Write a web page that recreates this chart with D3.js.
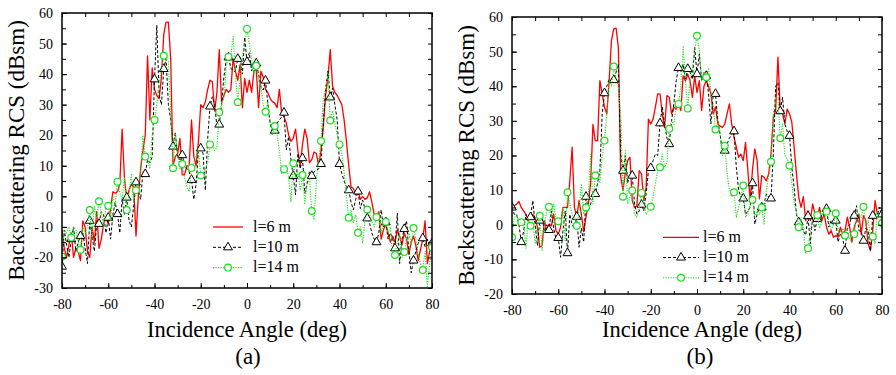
<!DOCTYPE html>
<html><head><meta charset="utf-8">
<script src="https://cdn.jsdelivr.net/npm/d3@7"></script>
<style>
body{margin:0;background:#fff}
svg{display:block}
svg text{font-family:"Liberation Serif","Times New Roman",Times,"Nimbus Roman","DejaVu Serif",serif !important;fill:#000}
</style>
</head><body>
<svg id="c" width="896" height="375"></svg>
<script>
// ---------------- data ----------------
const angles = d3.range(-80, 81, 1);            // incidence angle, deg (1-deg steps)
const seriesNames = ["l=6 m", "l=10 m", "l=14 m"];
const xTickValues = [-80, -60, -40, -20, 0, 20, 40, 60, 80];
const xTickLabels = ["-80", "-60", "-40", "-20", "0", "20", "40", "60", "80"];
const yTickValuesA = [-30, -20, -10, 0, 10, 20, 30, 40, 50, 60];
const yTickLabelsA = ["-30", "-20", "-10", "0", "10", "20", "30", "40", "50", "60"];
const yTickValuesB = [-20, -10, 0, 10, 20, 30, 40, 50, 60];
const yTickLabelsB = ["-20", "-10", "0", "10", "20", "30", "40", "50", "60"];
const xTitle = "Incidence Angle (deg)";
const yTitle = "Backscattering RCS (dBsm)";
const panelLabels = ["(a)", "(b)"];

// panel (a)
const aRed = [
 -11,-17,-20,-16,-12,-20,-17,-18,-21,-8,
 -10,-18,-20,-10,-15,-5,-17,-14,-9,-7,
 -9,-4,1.5,1,1.5,4,22,6,-1,2,
 4,3,-13,0,9,15,20,46,25,42,
 35,33,32,39,53,57,57,45,10,13,
 14,19,7,7,10,10,25,13,10,18,
 30,29,31,35,38,37.5,28,34,48,31,
 33,35,34,35,45,41,38,43,29,38.6,
 34,38,34,41,41.5,29,41,39,35,34,
 32,31,30.5,29,35,27,26,24,20,18,
 19,22,15,10,17,22,19,11,12,14.5,
 14,10,15,23,33,39,48,36,34,33,
 31.5,30,25,18,10,3,2.6,0.5,2,-1,
 0,-1,-0.5,1.5,-2,-6,-7,-5,-14,-11,
 -9,-12,-15,-13,-15,-11,-13,-16,-12,-14,
 -19,-15,-13,-16,-21,-17.5,-14,-8,-22,-18,-15];
const aBlack = [
 -23,-11,-16,-20,-14,-10,-18,-15,-13,-12,
 -17,-22,-8,-13,-18,-9,-9,-5,-6,-12,
 -7,-14,-6,-2,-5.8,-12,-1,-6,-0.4,-8,
 -10,-3,4.6,2,-1,8,7.3,12,11,13,
 38.3,56,33,30,41.7,45,30,25,16.3,21,
 13,12,13.5,10,9,8,5.4,-1,4,15,
 15.7,14,2,19,29.4,32.6,30,22.8,23.5,30,
 39,44.6,45.5,42,41,40.8,45,46,40,52,
 44,47,41,44,43.5,40,36,34.8,37.9,30.4,
 24,20.6,21.5,24,25,26,27.4,15.2,19.5,12,
 6.7,0.5,14,9,12.5,1,4.3,8,6.7,8,
 8.6,9,10.6,24,35,41,32.4,35.4,30,25,
 10.6,7.5,5,3.2,2,-2,-4.4,-1,1.6,-4,
 -1.2,-4,-7.2,-8.8,-12,-14,-15,-12,-4.4,-10,
 -8.5,-14,-12,-14,-17,-5.5,-22,-14,-10.7,-8,
 -18,-25,-21,-18,-15.4,-14,-13.7,-16.5,-14,-17,-15.4];
const aGreen = [
 -19.7,-11,-12,-10,-13.5,-10,-11,-15,-17.5,-10,
 -12,-10,-4.5,-14,-3,-8,-1.6,-5,-10,-4,
 -3.1,-8,0,-3,4.8,1,-1,6,-4.5,1,
 7.5,-2,2,4,8,20,13,12,9,20,
 25,30,38,41,46,45,44,28,9.2,20.6,
 14,9,10.6,6,3,1.5,9.3,11,13,15,
 6.8,6.5,9,11,17,17.4,15,16,27.5,30,
 32,42.4,45.7,46,52.3,40,30.8,38,45.7,50,
 54.8,50,45,40,42.7,38,36,30,27.7,31,
 24,20,23,20,15,7.5,8.9,10,6,-1.7,
 10.8,6,8,2,7,-2.3,4,6,-4.8,-7.7,
 5,12,18.1,32.6,35,40,24.8,28,24,20,
 17,14,8,0,-7,-4.4,-8.8,-6,-11.9,-10,
 -15.4,-8,-4.3,-6,-8,-10,-6.8,-7,-12,-9,
 -8.3,-12,-10,-19.7,-19.2,-15,-12,-20,-18.2,-14,
 -12,-16,-10.4,-14,-19,-22,-24.1,-18,-29.5,-22,-16.7];

// panel (b)
const bRed = [
 5,5.5,6,6.7,5,4,3,1.2,2.2,3,
 2,-0.7,-6.5,-6,1.2,-1.7,0.2,-0.3,3.1,-1.7,
 -2.7,-0.7,5,5,5,12.7,22.4,5,2.2,7,
 3,-2,2.2,6,12,29,24.3,24.3,41.6,37.8,
 34,32,41.6,53.2,56.6,56.8,51.2,14,10,15,
 18.5,19.5,7,5,5.5,15.6,14.7,7,10.8,30.5,
 29.1,30.5,34,37.8,37.8,32,28.1,37.3,36.8,32,
 34,33.4,34.9,33,43,41.6,43.5,41.6,36.8,43,
 38.2,41.6,33,40,41.6,40,38,32,34,29.1,
 28.5,28.1,29.1,32,34.9,29.1,25.3,22.4,19.5,20.4,
 18.5,23.8,15.6,7,16,21.9,18.5,7.5,14.2,13.7,
 12.7,14.7,20.4,31,33,48.4,33,32,29.1,33.4,
 32,29.6,22.4,14.7,7.9,5,8.1,1.2,4.1,1.2,
 6,3.1,2.2,5,1.2,3.1,-0.7,-2.7,-1.7,-3.6,
 -3.1,-3.6,-0.7,-2.7,-1.7,2.2,-0.7,-5,-0.7,1.2,
 3.1,-2.7,2.6,1.2,-5.5,-7.5,-1.7,7,3.1,3.1,2.2];
const bBlack = [
 5,3,3,0,-5,-2,3,1,2.2,7,
 0,-6,1.2,2.2,-2,0,-1.5,4,-1,-4,
 -3.8,-9.4,-2,4,-8.2,3,0,-1,2.3,-6.5,
 -1,-5,8.1,4,6,8,8.9,12,15.6,32,
 38,40,42,42,41.8,44,46.4,20.4,15.6,20,
 12,15,14.2,6,3.1,4,5.8,4,9,15.6,
 16.4,18.5,20.4,20,29.3,34,29,25,23.3,30,
 35,41.6,45.3,44,46.4,41.6,45,44,42,51.2,
 43.5,49.3,41.6,44,43,37.8,29.1,37.8,37.8,30,
 26.2,20.4,21.4,23.3,25,26,27,16.6,10,8,
 7.6,3,4,5,12,0.2,3,5,5,6,
 8.9,8,7.6,20.4,40,41,32.8,36.8,29.1,27,
 25.7,16.6,10.8,3,0.7,-0.7,-1.7,-3,2.5,-5.5,
 2.2,-1.7,1.7,1,3.1,3,4.6,-0.7,1.2,0,
 1.2,-5,-2.7,-4,-7.5,-0.7,0,3.1,2.6,5.5,
 -1.7,-2,-4.6,-1,-1.7,-7.5,2.6,3.1,3,5,3];
const bGreen = [
 -3.6,2,3,1,0.7,1,-6.8,2,-0.3,1,
 -5.5,0,2.6,-7.4,0,4,5.2,2,6,2,
 1,0,5,-4.6,9.4,6,3,2,-0.3,4,
 11.8,3,5,8,20.4,6,14.2,15.6,12,20,
 24.3,32,41.6,40,45.7,42.6,40,32,8.1,21.4,
 6,8,9.9,3,2.2,5,9.2,7,3,4,
 5.2,8,12,15.6,16.6,20.4,16.6,18,27.7,30,
 29,34.9,34.9,40,51.7,41.6,33.6,41.6,45,50.6,
 54.6,50.6,41.6,44,42.6,45.3,38,35,27.5,30,
 26.2,20,22.8,15,10,8,9.4,2.2,5,8,
 11.3,2.2,3.1,6,7.2,2.2,4,3,5,0.2,
 10,14,18.2,32,36.8,37,25,29.1,20,19,
 17.1,12,6,4,-0.7,2,-1,-8.4,-6.8,-2,
 1.2,2,2.8,-1,1,2,3.8,1.2,-1.7,0,
 3.3,-1.7,-2,-1,-3.1,-2,-4,-5,-2.7,3.1,
 3,2,5.2,-1,1.2,-3,-3.4,-5.5,4,2,0.5];

// ---------------- drawing ----------------
const svg = d3.select("#c");
const FONT = '"Liberation Serif","Times New Roman",Times,"Nimbus Roman","DejaVu Serif",serif';
const RED = "#ff0000", BLACK = "#000000", GREEN = "#19e019";
const styles = [
  {color: RED, width: 1.3, dash: null, marker: null},
  {color: BLACK, width: 1, dash: "3,2", marker: "tri"},
  {color: GREEN, width: 1.1, dash: "1.2,1.3", marker: "circ"}
];

function drawMarker(g, type, x, y) {
  if (type === "tri") {
    g.append("path")
      .attr("d", d3.symbol(d3.symbolTriangle, 34)())
      .attr("transform", `translate(${x},${y})`)
      .attr("fill", "#fff").attr("stroke", BLACK).attr("stroke-width", 1);
  } else if (type === "circ") {
    g.append("circle").attr("cx", x).attr("cy", y).attr("r", 3.4)
      .attr("fill", "#fff").attr("stroke", GREEN).attr("stroke-width", 1.2);
  }
}

function panel(cfg) {
  const {left, top, width, height, yDomain, yTicks, yLabels, series, id, label,
         legend, yTitleX, xTitleCx, labelCx} = cfg;
  const g = svg.append("g").attr("transform", `translate(${left},${top})`);
  const x = d3.scaleLinear().domain([-80, 80]).range([0, width]);
  const y = d3.scaleLinear().domain(yDomain).range([height, 0]);

  g.append("clipPath").attr("id", "clip" + id)
    .append("rect").attr("width", width).attr("height", height);

  const plot = g.append("g").attr("clip-path", `url(#clip${id})`);
  const line = d3.line().x((d, i) => x(angles[i])).y(d => y(d));

  series.forEach((vals, s) => {
    const st = styles[s];
    plot.append("path").datum(vals)
      .attr("d", line)
      .attr("fill", "none")
      .attr("stroke", st.color)
      .attr("stroke-width", st.width)
      .attr("stroke-dasharray", st.dash)
      .attr("stroke-linejoin", "round");
    if (st.marker) {
      vals.forEach((v, i) => {
        if (i % 4 === 0) drawMarker(plot, st.marker, x(angles[i]), y(v));
      });
    }
  });

  // ticks
  const xMinor = d3.range(-80, 81, 10);
  const yMinor = d3.range(yDomain[0], yDomain[1] + 0.1, 5);
  const styleAxis = sel => {
    sel.attr("font-family", FONT);
    sel.select(".domain").remove();
    sel.selectAll("line").attr("stroke", "#000").attr("stroke-width", 1);
    sel.selectAll("text").attr("font-size", 14).attr("font-family", FONT);
  };
  g.append("g").attr("transform", `translate(0,${height})`)
    .call(d3.axisBottom(x).tickValues(xMinor).tickSize(-3).tickFormat("")).call(styleAxis);
  g.append("g").attr("transform", `translate(0,${height})`)
    .call(d3.axisBottom(x).tickValues(xTickValues).tickSize(-5).tickPadding(11.5)
      .tickFormat((d, i) => xTickLabels[i])).call(styleAxis);
  g.append("g")
    .call(d3.axisTop(x).tickValues(xMinor).tickSize(-4).tickFormat("")).call(styleAxis);
  g.append("g")
    .call(d3.axisLeft(y).tickValues(yMinor).tickSize(-4).tickFormat("")).call(styleAxis);
  g.append("g")
    .call(d3.axisLeft(y).tickValues(yTicks).tickSize(-5).tickPadding(9)
      .tickFormat((d, i) => yLabels[i])).call(styleAxis);
  g.append("g").attr("transform", `translate(${width},0)`)
    .call(d3.axisRight(y).tickValues(yMinor).tickSize(-4).tickFormat("")).call(styleAxis);

  // frame
  g.append("rect").attr("width", width).attr("height", height)
    .attr("fill", "none").attr("stroke", "#000").attr("stroke-width", 1.5);

  // legend
  seriesNames.forEach((name, s) => {
    const st = styles[s];
    const ly = legend.y + s * legend.dy;
    g.append("line").attr("x1", legend.x1).attr("x2", legend.x2)
      .attr("y1", ly).attr("y2", ly)
      .attr("stroke", st.color).attr("stroke-width", st.width)
      .attr("stroke-dasharray", st.dash);
    if (st.marker) drawMarker(g, st.marker, (legend.x1 + legend.x2) / 2, ly);
    g.append("text").attr("x", legend.tx).attr("y", ly + 4.5)
      .attr("font-family", FONT).attr("font-size", 16).text(name);
  });

  // titles
  svg.append("text")
    .attr("transform", `translate(${yTitleX},${top + height / 2}) rotate(-90)`)
    .attr("text-anchor", "middle").attr("font-family", FONT).attr("font-size", 23).text(yTitle);
  svg.append("text").attr("x", xTitleCx).attr("y", 337)
    .attr("text-anchor", "middle").attr("font-family", FONT).attr("font-size", 22.5).text(xTitle);
  svg.append("text").attr("x", labelCx).attr("y", 364)
    .attr("text-anchor", "middle").attr("font-family", FONT).attr("font-size", 23).text(label);
}

panel({
  id: "a", left: 62, top: 13, width: 370, height: 275,
  yDomain: [-30, 60], yTicks: yTickValuesA, yLabels: yTickLabelsA,
  series: [aRed, aBlack, aGreen], label: panelLabels[0],
  legend: {x1: 151, x2: 181, tx: 191, y: 214, dy: 20.3},
  yTitleX: 24, xTitleCx: 247, labelCx: 248
});
panel({
  id: "b", left: 512, top: 17, width: 370, height: 277,
  yDomain: [-20, 60], yTicks: yTickValuesB, yLabels: yTickLabelsB,
  series: [bRed, bBlack, bGreen], label: panelLabels[1],
  legend: {x1: 151, x2: 187, tx: 191, y: 220.3, dy: 20.2},
  yTitleX: 474, xTitleCx: 702, labelCx: 700
});
</script>
</body></html>
